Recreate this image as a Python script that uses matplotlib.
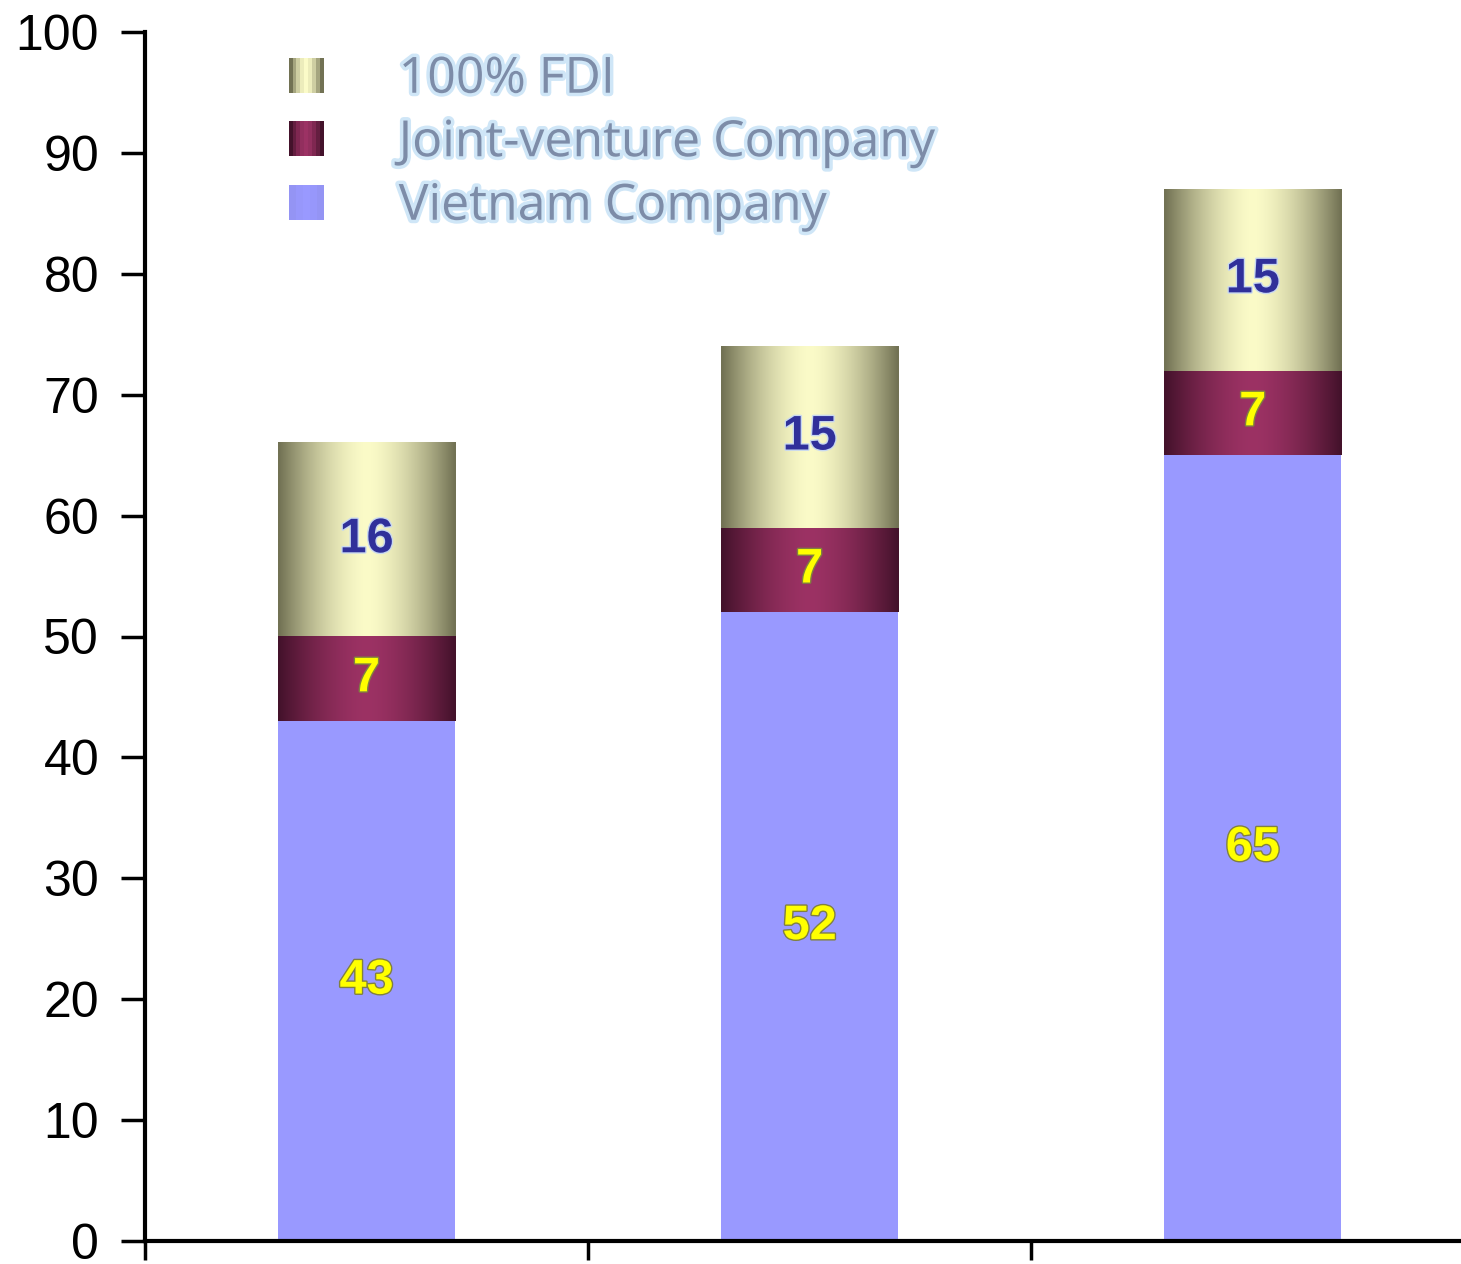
import numpy as np
import matplotlib
matplotlib.use('Agg')
import matplotlib.pyplot as plt
from matplotlib.patches import Patch, Rectangle
from matplotlib.legend_handler import HandlerBase
import matplotlib.patheffects as pe
from matplotlib.colors import to_rgb

# data
groups = ['1', '2', '3']
vietnam = [43, 52, 65]
joint_venture = [7, 7, 7]
fdi = [16, 15, 15]
series_names = ['100% FDI', 'Joint-venture Company', 'Vietnam Company']
y_ticks = [0, 10, 20, 30, 40, 50, 60, 70, 80, 90, 100]

VN_COL = '#9999ff'
JV_EDGE, JV_MID = '#44122b', '#9c3264'
FDI_EDGE, FDI_MID = '#727254', '#fbfbc8'


def gradient_cols(edge, mid, n=64):
    # horizontal "cylinder" shading: dark edges, light centre
    e = np.array(to_rgb(edge))
    m = np.array(to_rgb(mid))
    t = np.abs(np.linspace(-1, 1, n)) ** 1.6
    return m[None, :] * (1 - t[:, None]) + e[None, :] * t[:, None]


class GradHandler(HandlerBase):
    def __init__(self, edge, mid, n=9):
        super().__init__()
        self.cols = gradient_cols(edge, mid, n)

    def create_artists(self, legend, orig_handle, xd, yd, width, height, fontsize, trans):
        n = len(self.cols)
        sw = width / n
        return [Rectangle((-xd + k * sw, -yd), sw * 1.02, height, facecolor=c,
                          edgecolor='none', transform=trans)
                for k, c in enumerate(self.cols)]


fig = plt.figure(figsize=(14.61, 12.64), dpi=100)
ax = fig.add_axes([145 / 1461, 1 - 1241 / 1264, 1 - 145 / 1461, (1241 - 32) / 1264])

x = np.arange(len(groups))
w = 0.4
b_vn = ax.bar(x, vietnam, w, color=VN_COL, edgecolor='none', zorder=2)
bottom_jv = np.array(vietnam)
b_jv = ax.bar(x, joint_venture, w, bottom=bottom_jv, color=JV_MID, edgecolor='none', zorder=2)
bottom_fdi = bottom_jv + np.array(joint_venture)
b_fdi = ax.bar(x, fdi, w, bottom=bottom_fdi, color=FDI_MID, edgecolor='none', zorder=2)

for bars, edge, mid in [(b_jv, JV_EDGE, JV_MID), (b_fdi, FDI_EDGE, FDI_MID)]:
    img = gradient_cols(edge, mid)[None, :, :]
    for p in bars:
        x0, y0 = p.get_x(), p.get_y()
        ax.imshow(img, extent=(x0, x0 + p.get_width(), y0, y0 + p.get_height()),
                  aspect='auto', interpolation='bilinear', zorder=3)

# value labels
lab_font = dict(family='Liberation Sans', fontsize=35, fontweight='bold',
                ha='center', va='center', zorder=5)
glow = [pe.withStroke(linewidth=2, foreground='#808040')]
for i in range(len(groups)):
    ax.text(x[i], vietnam[i] / 2, str(vietnam[i]), color='#ffff00', path_effects=glow, **lab_font)
    ax.text(x[i], bottom_jv[i] + joint_venture[i] / 2, str(joint_venture[i]), color='#ffff00',
            path_effects=glow, **lab_font)
    ax.text(x[i], bottom_fdi[i] + fdi[i] / 2, str(fdi[i]), color='#30309a',
            path_effects=[pe.withStroke(linewidth=2, foreground='#c8d8f0')], **lab_font)

ax.set_xlim(-0.5, 2.47)
ax.set_ylim(0, 100)
ax.set_yticks(y_ticks)
ax.set_yticklabels([str(v) for v in y_ticks], family='Liberation Sans', fontsize=36)
ax.set_xticks([-0.5, 0.5, 1.5])
ax.set_xticklabels([])
ax.tick_params(axis='y', length=17, width=2.5, pad=16, direction='out')
ax.tick_params(axis='x', length=14, width=2.5, direction='out')
for s in ['top', 'right']:
    ax.spines[s].set_visible(False)
for s in ['left', 'bottom']:
    ax.spines[s].set_linewidth(3)
ax.patch.set_alpha(0)

handles = [Patch(label='fdi'), Patch(label='jv'), Patch(facecolor=VN_COL, edgecolor='none')]
handler_map = {handles[0]: GradHandler(FDI_EDGE, FDI_MID),
               handles[1]: GradHandler(JV_EDGE, JV_MID),
               handles[2]: GradHandler('#9494f4', VN_COL, 5)}
leg = ax.legend(handles, series_names, handler_map=handler_map, loc='upper left',
                bbox_to_anchor=(0.075, 1.018), frameon=False,
                handlelength=0.7, handleheight=0.7, handletextpad=1.5,
                labelspacing=0.28, prop={'family': 'Open Sans', 'size': 36})
for t in leg.get_texts():
    t.set_color('#7d8ca8')
    t.set_path_effects([pe.withStroke(linewidth=5, foreground='#cfe6f7')])

fig.savefig('out.png', dpi=100)
